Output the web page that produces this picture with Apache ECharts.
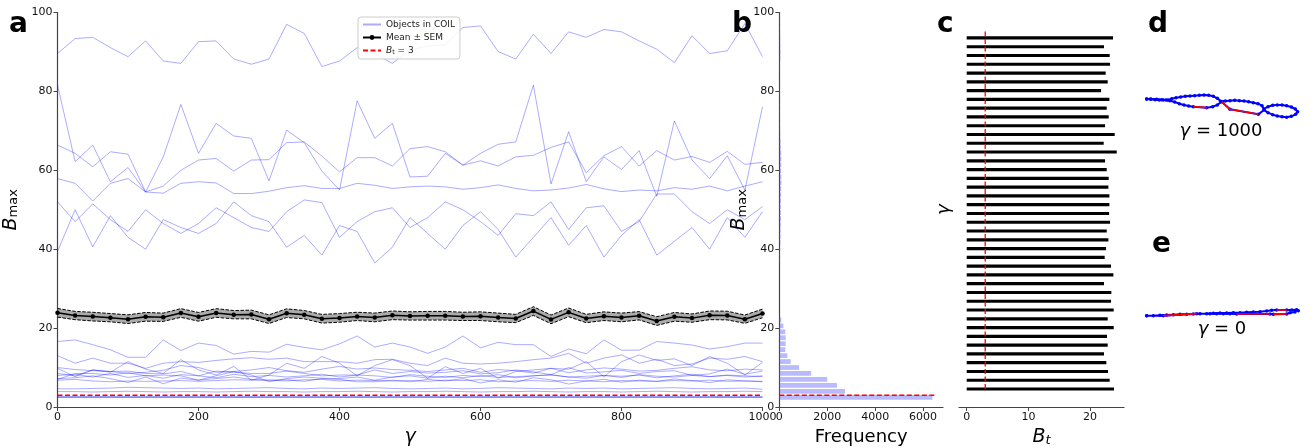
<!DOCTYPE html>
<html><head><meta charset="utf-8">
<script src="https://cdn.jsdelivr.net/npm/echarts@6/dist/echarts.min.js"></script>
<style>html,body{margin:0;padding:0;background:#fff}#chart{width:1316px;height:448px}</style>
</head><body><div id="chart"></div>
<script>
// ---------- DATA ----------
const gammas = [0,25,50,75,100,125,150,175,200,225,250,275,300,325,350,375,400,425,450,475,500,525,550,575,600,625,650,675,700,725,750,775,800,825,850,875,900,925,950,975,1000];

const obj01 = [89.6,93.4,93.7,91.1,88.8,92.8,87.7,87.1,92.6,92.8,88.2,86.9,88.2,97.0,94.7,86.3,87.7,91.1,89.5,87.1,90.5,91.5,91.8,96.2,96.6,90.1,88.2,94.5,89.6,95.1,93.7,95.7,95.1,92.8,90.7,87.3,94.1,89.6,90.3,97.2,88.8];
const obj02 = [81.6,62.2,66.4,57.1,60.7,54.5,56.0,60.0,62.6,63.0,59.8,62.6,62.7,67.0,67.2,63.6,59.6,63.2,63.2,61.1,65.5,66.0,64.7,61.3,62.4,61.1,63.4,63.8,65.8,67.2,59.4,63.7,66.0,61.1,65.0,62.6,63.5,62.0,64.8,61.5,62.0];
const obj03 = [66.4,64.3,60.9,64.7,64.1,54.5,63.4,76.7,64.3,71.9,68.7,68.1,57.3,70.2,67.0,59.8,55.0,77.6,68.1,71.9,58.3,58.5,64.3,61.3,64.3,66.6,67.2,81.6,56.5,69.8,57.1,63.4,60.2,65.0,53.4,72.5,62.6,57.9,63.7,55.0,76.1];
const obj04 = [57.9,56.7,52.2,56.7,57.9,54.5,54.2,56.7,57.1,56.8,54.1,54.1,54.7,55.6,56.1,55.4,55.4,56.7,56.2,55.4,55.8,56.0,55.8,55.2,55.6,56.3,55.4,54.8,55.0,55.5,56.4,55.3,54.6,55.0,54.8,55.6,55.2,56.0,54.8,56.0,57.1];
const obj05 = [52.0,47.0,51.5,47.5,44.5,50.0,46.5,44.0,46.5,50.5,48.0,45.5,44.5,49.5,52.5,51.8,43.0,47.0,49.5,50.5,45.5,48.0,52.0,50.0,47.0,43.5,49.0,48.5,52.0,45.0,50.5,51.0,44.5,47.0,54.0,54.0,49.5,46.5,50.0,47.5,50.8];
const obj06 = [39.4,50.0,40.6,48.5,43.0,40.0,47.5,45.5,44.0,46.5,52.0,48.5,47.0,40.5,43.5,38.5,46.0,44.5,36.5,40.5,48.0,44.0,40.0,46.0,49.5,45.0,38.0,43.0,48.0,41.0,46.0,38.0,43.5,47.5,38.5,42.0,45.5,40.0,48.0,43.0,49.5];
const obj07 = [16.6,17.0,15.8,14.5,12.6,12.6,17.0,14.3,16.2,15.6,13.4,14.1,13.9,15.9,15.1,14.5,16.0,18.0,15.2,16.2,15.2,13.6,15.2,18.0,15.0,16.4,15.8,15.8,12.8,14.7,13.5,17.0,14.4,14.4,16.6,16.2,15.7,14.7,15.3,16.2,16.2];
const obj08 = [13.0,11.1,12.4,11.1,11.1,9.8,11.1,11.5,11.3,11.8,12.2,12.5,12.1,12.4,11.5,11.5,11.5,11.1,12.0,12.1,11.1,10.5,12.4,11.1,10.9,11.1,11.5,12.0,12.4,13.6,11.1,12.4,13.2,11.1,12.1,10.5,10.9,12.4,12.1,12.8,11.5];
const obj09 = [9.8,7.7,9.4,8.8,11.5,9.6,8.5,12.0,9.4,8.1,10.3,6.8,8.1,11.1,9.8,12.8,11.1,7.9,10.5,12.0,10.5,7.3,10.2,8.5,9.8,7.3,9.0,9.4,9.8,9.6,11.5,7.6,11.5,13.2,11.8,12.2,10.5,12.8,11.1,8.1,11.3];
const obj10 = [8.5,7.9,9.4,9.0,9.1,8.5,8.4,9.0,7.9,9.1,8.8,8.5,8.5,9.1,8.5,7.9,8.1,8.1,9.4,8.5,9.0,8.6,8.8,9.2,8.4,8.7,9.4,8.9,8.2,10.0,8.6,8.9,9.3,8.5,9.0,9.2,8.0,8.4,9.6,8.3,9.1];
const obj11 = [7.2,7.4,7.9,7.2,6.2,7.6,5.9,7.3,6.8,7.2,7.6,7.0,6.8,6.9,6.5,7.2,7.0,6.4,6.4,6.8,6.4,7.0,6.6,7.2,6.1,6.9,6.3,7.4,6.9,5.8,6.6,7.0,6.3,6.8,6.5,7.1,6.7,6.2,6.9,6.6,6.5];
const obj12 = [7.0,8.5,8.5,8.1,8.7,7.9,8.1,7.9,6.8,7.9,9.0,8.1,6.4,7.2,7.6,7.3,7.2,7.6,6.8,7.6,7.9,7.3,7.8,7.4,8.0,7.5,7.7,7.9,8.2,7.6,7.3,8.0,7.8,8.1,7.4,7.9,8.3,7.7,8.0,7.6,7.9];
const obj13 = [6.8,7.0,6.6,6.4,6.6,6.5,6.6,6.7,6.5,6.7,6.9,6.8,6.8,6.6,6.9,7.0,6.6,6.8,6.7,6.6,6.7,6.5,6.8,6.7,6.9,6.4,6.6,6.7,6.5,6.8,6.6,6.4,6.7,6.6,6.5,6.7,6.6,6.8,6.5,6.6,6.4];
const obj14 = [10.0,9.5,9.2,9.0,8.5,8.8,9.3,10.5,10.0,8.8,9.0,9.4,10.0,9.2,8.8,9.6,10.3,9.6,9.9,9.5,9.3,9.0,9.4,9.8,8.8,9.5,9.2,8.6,9.8,8.7,9.4,9.9,9.6,9.1,9.3,9.8,10.2,9.4,9.2,9.6,9.4];
const obj15 = [8.0,8.3,7.6,8.5,7.5,8.0,7.3,8.2,7.9,7.4,8.3,7.7,8.0,7.6,7.9,8.3,7.6,8.1,7.9,7.5,8.2,7.8,7.5,8.0,7.7,8.2,7.4,7.9,8.1,7.6,7.8,8.0,7.5,8.2,7.8,7.6,8.0,7.7,8.1,7.9,7.7];
const obj16 = [4.6,4.6,4.7,4.8,5.0,4.9,4.8,4.7,4.8,4.6,4.7,4.8,4.9,4.7,4.6,4.8,4.7,4.8,4.9,4.7,4.6,4.7,4.8,4.6,4.7,4.9,4.8,4.7,4.6,4.8,4.7,4.8,4.6,4.7,4.8,4.9,4.7,4.6,4.7,4.8,4.5];
const obj17 = [3.9,3.9,3.8,3.9,4.0,3.9,3.8,3.9,3.9,3.8,3.9,4.0,3.9,3.9,3.8,3.9,3.9,4.0,3.9,3.8,3.9,3.9,4.0,3.9,3.8,3.9,3.9,4.0,3.9,3.8,3.9,3.9,3.8,3.9,4.0,3.9,3.8,3.9,3.9,4.0,3.9];
const obj18 = [2.6,2.6,2.6,2.6,2.6,2.6,2.6,2.6,2.6,2.6,2.6,2.6,2.6,2.6,2.6,2.6,2.6,2.6,2.6,2.6,2.6,2.6,2.6,2.6,2.6,2.6,2.6,2.6,2.6,2.6,2.6,2.6,2.6,2.6,2.6,2.6,2.6,2.6,2.6,2.6,2.6];
const obj19 = [2.5,2.5,2.5,2.5,2.5,2.5,2.5,2.5,2.5,2.5,2.5,2.5,2.5,2.5,2.5,2.5,2.5,2.5,2.5,2.5,2.5,2.5,2.5,2.5,2.5,2.5,2.5,2.5,2.5,2.5,2.5,2.5,2.5,2.5,2.5,2.5,2.5,2.5,2.5,2.5,2.5];
const obj20 = [2.45,2.45,2.45,2.45,2.45,2.45,2.45,2.45,2.45,2.45,2.45,2.45,2.45,2.45,2.45,2.45,2.45,2.45,2.45,2.45,2.45,2.45,2.45,2.45,2.45,2.45,2.45,2.45,2.45,2.45,2.45,2.45,2.45,2.45,2.45,2.45,2.45,2.45,2.45,2.45,2.45];
const coilObjects = [obj01,obj02,obj03,obj04,obj05,obj06,obj07,obj08,obj09,obj10,obj11,obj12,obj13,obj14,obj15,obj16,obj17,obj18,obj19,obj20];

const meanB = [23.88,23.18,22.91,22.64,22.26,22.86,22.75,23.83,22.86,23.83,23.40,23.45,22.26,23.78,23.40,22.37,22.59,22.97,22.70,23.24,23.08,23.13,23.13,22.97,23.02,22.70,22.43,24.32,22.21,23.99,22.43,23.02,22.70,23.13,21.78,22.86,22.53,23.24,23.18,22.26,23.72];
const semB = [1.10,1.05,1.10,1.05,1.10,1.10,1.05,1.10,1.10,1.10,1.05,1.10,1.10,1.10,1.05,1.10,1.10,1.05,1.10,1.10,1.05,1.10,1.10,1.05,1.10,1.10,1.05,1.10,1.10,1.10,1.05,1.10,1.10,1.05,1.10,1.10,1.05,1.10,1.10,1.05,1.10];
const thresholdBt = 3;

// histogram of B_max (panel b): lower bin edges, bin width, counts
const histBinStart = [1.70,3.21,4.72,6.23,7.74,9.25,10.76,12.27,13.78,15.29,16.80,18.31,19.82,21.33,
  36.43,37.94,39.45,40.96,42.47,43.98,45.49,47.00,48.51,50.02,51.53,53.04,54.55,56.06,57.57,59.08,60.59,62.10,63.61,65.12,66.63,68.14,69.65,71.16,72.67,74.18,75.69,77.20,78.71,80.22,81.73,83.24,84.75,86.26,87.77,89.28,90.79,92.30,93.81,95.32,96.83,98.34];
const histBinWidth = 1.51;
const histCounts = [6392,2741,2406,2000,1329,825,476,336,252,266,266,252,168,84,
  20,30,35,45,50,55,60,70,65,60,70,75,80,90,85,75,80,85,80,65,55,40,35,30,30,25,25,20,20,15,15,15,20,30,45,50,45,40,35,30,25,20];
const freqTicks = [0,2000,4000,6000];
const thresholdFreqEnd = 6560;

// panel c: B_t per gamma (bar position index from bottom)
const btPositions = [0,1,2,3,4,5,6,7,8,9,10,11,12,13,14,15,16,17,18,19,20,21,22,23,24,25,26,27,28,29,30,31,32,33,34,35,36,37,38,39,40];
const btTicks = [0,10,20];
const btLineSpan = [0,41];

// panels d, e: contour points (shape coordinates)
const shapeD = [[50,297],[62,298],[75,299],[88,300],[100,300],[113,300],[125,296],[138,293],[152,291],[166,289],[180,288],[194,287],[208,286],[222,285],[236,286],[250,289],[262,295],[272,304],[286,303],[300,302],[314,301],[328,302],[342,303],[356,305],[370,308],[384,311],[396,317],[402,327],[414,320],[428,316],[442,315],[456,315],[470,317],[484,321],[496,327],[503,335],[497,343],[484,349],[470,352],[456,350],[442,348],[428,344],[414,338],[402,330],[385,343],[300,328],[275,305],[262,315],[248,320],[230,323],[190,320],[176,318],[162,315],[148,311],[134,306],[120,302],[108,300],[95,299],[80,298],[62,297],[50,297]];
const shapeDRed = [[[275,305],[300,328],[385,343]],[[190,320],[230,323]]];
const shapeE = [[50,947],[70,947],[90,946],[110,945],[130,944],[150,943],[170,943],[190,942],[210,941],[230,941],[250,940],[270,939],[290,939],[310,938],[330,938],[350,937],[370,936],[390,935],[410,933],[425,931],[440,930],[470,930],[485,930],[500,929],[505,932],[495,936],[480,938],[470,942],[430,943],[420,942],[320,942],[300,941],[280,941],[260,941],[240,941],[200,941],[100,947],[50,947]];
const shapeERed = [[[470,942],[430,943]],[[420,942],[320,942]],[[200,941],[100,947]],[[440,930],[470,930]]];

// ---------- CHART ----------
const FONT = 'DejaVu Sans';
const AX = '#444';
const chart = echarts.init(document.getElementById('chart'), null, {renderer:'canvas'});
const plain = v => String(v);

function axisCommon(){
  return {
    axisLine:{show:true, onZero:false, lineStyle:{color:AX, width:1.2}},
    axisTick:{show:true, length:4, lineStyle:{color:AX, width:1}},
    axisLabel:{fontSize:11, color:'#111', fontFamily:FONT, margin:5, formatter:plain},
    splitLine:{show:false}
  };
}
const subRich = {
  b:{fontSize:19, fontStyle:'italic', fontFamily:FONT, color:'#000'},
  s:{fontSize:13, fontFamily:FONT, color:'#000', padding:[7,0,0,0]},
  t:{fontSize:13, fontStyle:'italic', fontFamily:FONT, color:'#000', padding:[7,0,0,0]}
};

const series = [];
coilObjects.forEach((arr) => {
  series.push({
    name:'Objects in COIL', type:'line', xAxisIndex:0, yAxisIndex:0,
    data: gammas.map((g,i)=>[g, arr[i]]),
    symbol:'none', showSymbol:false, silent:true, z:2,
    lineStyle:{color:'rgba(0,0,255,0.33)', width:1},
    itemStyle:{color:'rgba(0,0,255,0.33)'}
  });
});
// SEM band polygon
series.push({
  name:'semBand', type:'custom', xAxisIndex:0, yAxisIndex:0, silent:true, z:3,
  data:[[0]],
  renderItem:(params, api)=>{
    const pts = [];
    gammas.forEach((g,i)=>pts.push(api.coord([g, meanB[i]+semB[i]])));
    for (let i=gammas.length-1;i>=0;i--) pts.push(api.coord([gammas[i], meanB[i]-semB[i]]));
    return {type:'polygon', shape:{points:pts}, style:{fill:'rgba(115,115,115,0.6)'}};
  }
});
series.push({
  name:'semLow', type:'line', xAxisIndex:0, yAxisIndex:0,
  data: gammas.map((g,i)=>[g, meanB[i]-semB[i]]),
  symbol:'none', z:4, silent:true,
  lineStyle:{color:'#000', width:1, type:[3.5,1.5]}
});
series.push({
  name:'semHigh', type:'line', xAxisIndex:0, yAxisIndex:0,
  data: gammas.map((g,i)=>[g, meanB[i]+semB[i]]),
  symbol:'none', z:4, silent:true,
  lineStyle:{color:'#000', width:1, type:[3.5,1.5]}
});
series.push({
  name:'Mean ± SEM', type:'line', xAxisIndex:0, yAxisIndex:0,
  data: gammas.map((g,i)=>[g, meanB[i]]),
  symbol:'circle', symbolSize:4.5, z:5,
  lineStyle:{color:'#000', width:1.5}, itemStyle:{color:'#000'}
});
series.push({
  name:'Bt', type:'line', xAxisIndex:0, yAxisIndex:0,
  data:[[gammas[0], thresholdBt],[gammas[gammas.length-1], thresholdBt]],
  symbol:'none', z:6,
  lineStyle:{color:'#ff0000', width:1.5, type:[5,2.5]}, itemStyle:{color:'#ff0000'}
});
// panel b histogram
series.push({
  name:'hist', type:'custom', xAxisIndex:1, yAxisIndex:1, silent:true, z:2,
  data: histBinStart.map((s,i)=>[s, s+histBinWidth, histCounts[i]]),
  renderItem:(params, api)=>{
    const lo = api.value(0), hi = api.value(1), c = api.value(2);
    const pad = (hi-lo)*0.1;
    const p0 = api.coord([0, lo+pad]);
    const p1 = api.coord([c, hi-pad]);
    return {type:'rect', shape:{x:p0[0], y:p1[1], width:p1[0]-p0[0], height:p0[1]-p1[1]},
      style:{fill:'rgba(90,90,255,0.42)'}};
  }
});
series.push({
  name:'BtB', type:'line', xAxisIndex:1, yAxisIndex:1,
  data:[[0, thresholdBt],[thresholdFreqEnd, thresholdBt]],
  symbol:'none', z:6, silent:true,
  lineStyle:{color:'#ff0000', width:1.5, type:[5,2.5]}
});
// panel c bars
series.push({
  name:'btBars', type:'custom', xAxisIndex:2, yAxisIndex:2, silent:true, z:2,
  data: btPositions.map((p,i)=>[p, meanB[i]]),
  renderItem:(params, api)=>{
    const p = api.value(0), v = api.value(1);
    const a = api.coord([0, p+0.18]);
    const b = api.coord([v, p-0.18]);
    return {type:'rect', shape:{x:a[0], y:a[1], width:b[0]-a[0], height:b[1]-a[1]}, style:{fill:'#000'}};
  }
});
series.push({
  name:'BtC', type:'line', xAxisIndex:2, yAxisIndex:2,
  data:[[thresholdBt, btLineSpan[0]],[thresholdBt, btLineSpan[1]]],
  symbol:'none', z:6, silent:true,
  lineStyle:{color:'#ff0000', width:1.3, type:[5,2.5]}
});
// panels d, e
[shapeD, shapeE].forEach(sh => {
  series.push({
    name:'shape', type:'line', xAxisIndex:3, yAxisIndex:3, silent:true, z:2,
    data: sh, symbol:'circle', symbolSize:3.5, showSymbol:true,
    lineStyle:{color:'#0000ff', width:2}, itemStyle:{color:'#0000ff'}
  });
});
shapeDRed.concat(shapeERed).forEach(seg => {
  series.push({
    name:'shapeRed', type:'line', xAxisIndex:3, yAxisIndex:3, silent:true, z:3,
    data: seg, symbol:'none',
    lineStyle:{color:'#ff0000', width:1.6}
  });
});

const hiddenSym = {color:'rgba(0,0,0,0)', borderWidth:0, opacity:0};
const option = {
  animation:false,
  backgroundColor:'#fff',
  textStyle:{fontFamily:FONT},
  grid:[
    {left:57.5, top:12.5, width:705, height:394.5, outerBoundsMode:'none', containLabel:false},
    {left:779.3, top:12.5, width:163.7, height:394.5, outerBoundsMode:'none', containLabel:false},
    {left:959, top:12.5, width:165, height:394.5, outerBoundsMode:'none', containLabel:false},
    {left:1130, top:0, width:186, height:448, outerBoundsMode:'none', containLabel:false}
  ],
  xAxis:[
    Object.assign(axisCommon(), {gridIndex:0, type:'value', min:0, max:1000, interval:200,
      name:'γ', nameLocation:'middle', nameGap:19,
      nameTextStyle:{fontSize:19, fontStyle:'italic', fontFamily:FONT, color:'#000'}}),
    Object.assign(axisCommon(), {gridIndex:1, type:'value', min:0, max:6830,
      axisLabel:{fontSize:11, color:'#111', fontFamily:FONT, margin:5, customValues:freqTicks, formatter:plain},
      axisTick:{show:true, length:4, lineStyle:{color:AX, width:1}, customValues:freqTicks},
      name:'Frequency', nameLocation:'middle', nameGap:19,
      nameTextStyle:{fontSize:18, fontFamily:FONT, color:'#000'}}),
    Object.assign(axisCommon(), {gridIndex:2, type:'value', min:-1.25, max:25.5,
      axisLabel:{fontSize:11, color:'#111', fontFamily:FONT, margin:5, customValues:btTicks, formatter:plain},
      axisTick:{show:true, length:4, lineStyle:{color:AX, width:1}, customValues:btTicks},
      name:'{b|B}{t|t}', nameLocation:'middle', nameGap:17,
      nameTextStyle:{fontSize:19, fontFamily:FONT, color:'#000', rich:subRich}}),
    {gridIndex:3, type:'value', min:0, max:558, show:false}
  ],
  yAxis:[
    Object.assign(axisCommon(), {gridIndex:0, type:'value', min:0, max:100, interval:20,
      name:'{b|B}{s|max}', nameLocation:'middle', nameRotate:90, nameGap:27,
      nameTextStyle:{fontSize:19, fontFamily:FONT, color:'#000', rich:subRich}}),
    Object.assign(axisCommon(), {gridIndex:1, type:'value', min:0, max:100, interval:20,
      name:'{b|B}{s|max}', nameLocation:'middle', nameRotate:90, nameGap:28,
      nameTextStyle:{fontSize:19, fontFamily:FONT, color:'#000', rich:subRich}}),
    {gridIndex:2, type:'value', min:-2.05, max:42.9,
      axisLine:{show:false}, axisTick:{show:false}, axisLabel:{show:false}, splitLine:{show:false},
      name:'γ', nameLocation:'middle', nameRotate:90, nameGap:6,
      nameTextStyle:{fontSize:18, fontStyle:'italic', fontFamily:FONT, color:'#000'}},
    {gridIndex:3, type:'value', min:0, max:1344, inverse:true, show:false}
  ],
  legend:{
    data:[{name:'Objects in COIL', itemStyle:hiddenSym}, {name:'Mean ± SEM'}, {name:'Bt', itemStyle:hiddenSym}],
    orient:'vertical', left:358, top:17,
    itemWidth:18, itemHeight:6, itemGap:4,
    padding:[3,5,3,4],
    backgroundColor:'rgba(255,255,255,0.85)', borderColor:'#ccc', borderWidth:1, borderRadius:3,
    selectedMode:false,
    textStyle:{fontSize:9, fontFamily:FONT, color:'#222',
      rich:{i:{fontSize:9, fontStyle:'italic', fontFamily:FONT, color:'#222'},
            s:{fontSize:6.5, fontFamily:FONT, color:'#222', padding:[4,0,0,0]},
            n:{fontSize:9, fontFamily:FONT, color:'#222'}}},
    formatter:(n)=> n==='Bt' ? '{i|B}{s|t}{n| = 3}' : n
  },
  graphic:[
    {type:'text', x:9, y:24.5, style:{text:'a', fontSize:28, fontWeight:'bold', fontFamily:FONT, fill:'#000', verticalAlign:'middle'}},
    {type:'text', x:732, y:24.5, style:{text:'b', fontSize:28, fontWeight:'bold', fontFamily:FONT, fill:'#000', verticalAlign:'middle'}},
    {type:'text', x:937, y:24.5, style:{text:'c', fontSize:28, fontWeight:'bold', fontFamily:FONT, fill:'#000', verticalAlign:'middle'}},
    {type:'text', x:1148, y:24.5, style:{text:'d', fontSize:28, fontWeight:'bold', fontFamily:FONT, fill:'#000', verticalAlign:'middle'}},
    {type:'text', x:1152, y:244.5, style:{text:'e', fontSize:28, fontWeight:'bold', fontFamily:FONT, fill:'#000', verticalAlign:'middle'}},
    {type:'text', x:1221, y:131, style:{text:'{g|γ} = 1000', fontSize:18, fontFamily:FONT, fill:'#000', align:'center', verticalAlign:'middle',
      rich:{g:{fontSize:18, fontStyle:'italic', fontFamily:FONT, fill:'#000'}}}},
    {type:'text', x:1222, y:329, style:{text:'{g|γ} = 0', fontSize:18, fontFamily:FONT, fill:'#000', align:'center', verticalAlign:'middle',
      rich:{g:{fontSize:18, fontStyle:'italic', fontFamily:FONT, fill:'#000'}}}}
  ],
  series
};
chart.setOption(option);
</script>
</body></html>
